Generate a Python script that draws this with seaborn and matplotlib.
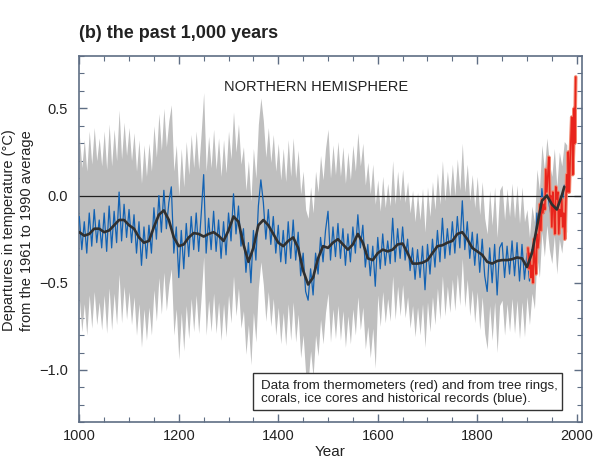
import numpy as np
import pandas as pd
import matplotlib

matplotlib.use("Agg")
import matplotlib.pyplot as plt
from matplotlib.ticker import MultipleLocator
from matplotlib.patches import Rectangle
import seaborn as sns

# ----------------------------
# data (5-yr steps for the proxy series)

proxy_years = np.arange(1000, 1981, 5)
proxy_temp = [
    -0.12, -0.31, -0.15, -0.33, -0.10, -0.29, -0.08, -0.27, -0.14, -0.30,   # 1000
    -0.10, -0.32, -0.06, -0.30, -0.09, -0.27, 0.02, -0.26, -0.05, -0.24,    # 1050
    -0.08, -0.27, -0.11, -0.33, -0.15, -0.40, -0.18, -0.36, -0.17, -0.33,   # 1100
    -0.07, -0.25, 0.00, -0.21, 0.03, -0.19, -0.04, 0.05, -0.33, -0.18,      # 1150
    -0.47, -0.20, -0.42, -0.16, -0.35, -0.12, -0.31, -0.10, -0.32, -0.11,   # 1200
    0.12, -0.33, -0.13, -0.31, -0.09, -0.32, -0.14, -0.36, -0.15, -0.34,    # 1250
    -0.10, -0.26, 0.01, -0.22, -0.06, -0.29, -0.19, -0.44, -0.27, -0.50,    # 1300
    -0.20, -0.37, -0.06, 0.09, -0.04, -0.25, -0.08, -0.28, -0.12, -0.33,    # 1350
    -0.17, -0.38, -0.20, -0.39, -0.15, -0.36, -0.14, -0.37, -0.21, -0.46,   # 1400
    -0.33, -0.55, -0.60, -0.42, -0.57, -0.33, -0.45, -0.24, -0.38, -0.20,   # 1450
    -0.09, -0.37, -0.18, -0.35, -0.16, -0.36, -0.19, -0.40, -0.22, -0.38,   # 1500
    -0.18, -0.33, -0.11, -0.30, -0.17, -0.41, -0.28, -0.46, -0.29, -0.52,   # 1550
    -0.24, -0.42, -0.22, -0.40, -0.26, -0.39, -0.13, -0.38, -0.19, -0.36,   # 1600
    -0.18, -0.37, -0.25, -0.43, -0.30, -0.48, -0.31, -0.47, -0.29, -0.54,   # 1650
    -0.28, -0.45, -0.25, -0.41, -0.20, -0.38, -0.13, -0.36, -0.19, -0.34,   # 1700
    -0.15, -0.33, -0.12, -0.30, -0.03, -0.31, -0.15, -0.36, -0.21, -0.40,   # 1750
    -0.22, -0.44, -0.25, -0.46, -0.55, -0.30, -0.50, -0.28, -0.57, -0.30,   # 1800
    -0.27, -0.47, -0.29, -0.45, -0.26, -0.46, -0.27, -0.49, -0.28, -0.48,   # 1850
    -0.33, -0.49, -0.31, -0.40, -0.10, -0.22, 0.04, -0.10, 0.08, -0.06,     # 1900
    -0.14, 0.02, -0.20, 0.00, -0.08, 0.06, 0.04,                            # 1950
]

# 2-sigma uncertainty, piecewise by period
sigma_start = [1000, 1600, 1900]
two_sigma = [0.47, 0.33, 0.25]

smooth_years = list(range(1000, 1971, 10)) + [1975]
smooth_temp = [
    -0.21, -0.23, -0.22, -0.19, -0.19, -0.21, -0.20, -0.17, -0.14, -0.14,
    -0.17, -0.19, -0.24, -0.27, -0.26, -0.18, -0.11, -0.085, -0.14, -0.24,
    -0.29, -0.28, -0.24, -0.215, -0.22, -0.235, -0.22, -0.21, -0.23, -0.26,
    -0.20, -0.12, -0.15, -0.28, -0.38, -0.30, -0.17, -0.14, -0.17, -0.22,
    -0.27, -0.29, -0.26, -0.24, -0.30, -0.43, -0.51, -0.47, -0.36, -0.29,
    -0.30, -0.27, -0.25, -0.28, -0.31, -0.28, -0.22, -0.27, -0.36, -0.37,
    -0.33, -0.31, -0.32, -0.31, -0.28, -0.275, -0.33, -0.39, -0.39, -0.385,
    -0.37, -0.33, -0.29, -0.285, -0.27, -0.26, -0.22, -0.21, -0.25, -0.30,
    -0.32, -0.34, -0.38, -0.39, -0.375, -0.37, -0.37, -0.365, -0.355, -0.36,
    -0.41, -0.33, -0.18, -0.03, 0.00, -0.05, -0.08, 0.00, 0.05,
]

thermo_years = [1902, 1904, 1906, 1908, 1910, 1912, 1914, 1916, 1918, 1920,
                1922, 1924, 1926, 1928, 1930, 1932, 1934, 1936, 1938, 1940,
                1942, 1944, 1946, 1948, 1950, 1952, 1954, 1956, 1958, 1960,
                1962, 1964, 1966, 1968, 1970, 1972, 1974, 1976, 1978, 1980,
                1982, 1983, 1985, 1987, 1988, 1990, 1991, 1992, 1994, 1995,
                1996, 1997, 1998]
thermo_temp = [-0.30, -0.42, -0.33, -0.47, -0.40, -0.50, -0.25, -0.38, -0.45, -0.22,
               -0.30, -0.25, -0.05, -0.20, -0.02, -0.10, -0.05, -0.08, 0.15, 0.02,
               0.12, 0.22, -0.02, 0.00, -0.18, 0.02, -0.08, -0.22, 0.05, -0.02,
               0.02, -0.22, -0.08, -0.12, -0.02, -0.18, -0.10, -0.25, -0.05, 0.12,
               0.02, 0.25, 0.02, 0.22, 0.30, 0.45, 0.38, 0.12, 0.30, 0.50,
               0.30, 0.50, 0.68]

# ----------------------------
# plotting

sns.set_theme(style="ticks")
plt.rcParams['font.family'] = ['Liberation Sans', 'DejaVu Sans']

spine_col = '#5f6e84'
text_col = '#222222'

proxy = pd.DataFrame({'year': proxy_years, 'temp': proxy_temp})
hw = np.array(two_sigma)[np.searchsorted(sigma_start, proxy['year'], side='right') - 1]
smooth = pd.DataFrame({'year': smooth_years, 'temp': smooth_temp})
thermo = pd.DataFrame({'year': thermo_years, 'temp': thermo_temp})

fig = plt.figure(figsize=(5.99, 4.61), dpi=100)
ax = fig.add_axes([0.1324, 0.0839, 0.8387, 0.7946])

ax.fill_between(proxy['year'], proxy['temp'] - hw, proxy['temp'] + hw,
                color='#bfbfbf', lw=0, zorder=1)
ax.axhline(0, color='#222222', lw=0.9, zorder=2)
sns.lineplot(data=proxy, x='year', y='temp', ax=ax, color='#1262b3', lw=0.9, zorder=3)
sns.lineplot(data=thermo, x='year', y='temp', ax=ax, color='#f2866e', lw=2.6, zorder=4)
sns.lineplot(data=thermo, x='year', y='temp', ax=ax, color='#e8241c', lw=1.1, zorder=5)
sns.lineplot(data=smooth, x='year', y='temp', ax=ax, color='#303030', lw=1.9, zorder=6)

ax.set_xlim(1000, 2010)
ax.set_ylim(-1.3, 0.8)
ax.xaxis.set_major_locator(MultipleLocator(200))
ax.xaxis.set_minor_locator(MultipleLocator(50))
ax.yaxis.set_minor_locator(MultipleLocator(0.1))
ax.set_yticks([-1.0, -0.5, 0.0, 0.5])
ax.yaxis.set_major_formatter(matplotlib.ticker.FuncFormatter(
    lambda v, p: ('%.1f' % v).replace('-', '\u2212')))
ax.tick_params(which='both', direction='in', top=True, right=True,
               color=spine_col, labelsize=10.5, labelcolor=text_col)
ax.tick_params(which='major', length=5.5, width=1)
ax.tick_params(which='minor', length=3.5, width=0.8)
ax.tick_params(axis='y', pad=8)
ax.tick_params(axis='x', pad=5)
for s in ax.spines.values():
    s.set_color(spine_col)
    s.set_linewidth(1.2)

ax.set_xlabel('Year', fontsize=11, color=text_col, labelpad=1)
ax.set_ylabel('')
fig.text(0.030, 0.5, 'Departures in temperature (\u00b0C)\nfrom the 1961 to 1990 average',
         rotation=90, ha='center', va='center', fontsize=10.5, color=text_col,
         linespacing=1.35)

fig.text(0.1324, 1 - 33 / 461, '(b) the past 1,000 years', fontsize=13,
         fontweight='bold', color=text_col, ha='left', va='center')
ax.text(0.472, 0.915, 'NORTHERN HEMISPHERE', transform=ax.transAxes,
        ha='center', va='center', fontsize=10.5, color=text_col)

ax.add_patch(Rectangle((0.3457, 0.0336), 0.6151, 0.1010, transform=ax.transAxes,
                       facecolor='white', edgecolor='#333333', lw=1.0, zorder=7))
ax.text(0.3617, 0.0815,
        'Data from thermometers (red) and from tree rings,\n'
        'corals, ice cores and historical records (blue).',
        transform=ax.transAxes, ha='left', va='center', fontsize=9.6,
        color=text_col, linespacing=1.1, zorder=8)

fig.savefig('out.png', dpi=100)
